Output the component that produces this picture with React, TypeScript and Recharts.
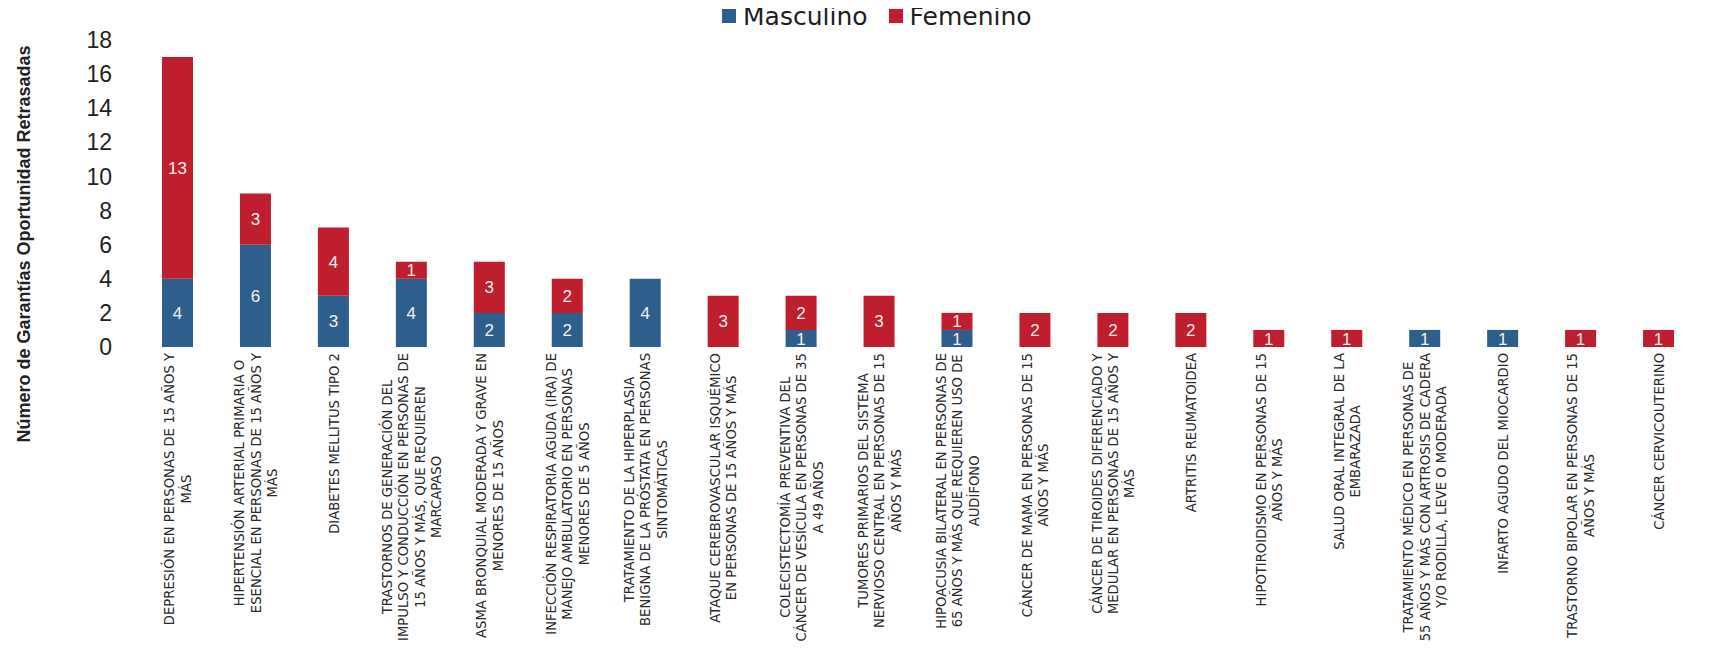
import React from 'react';
import { BarChart, Bar, XAxis, YAxis, LabelList } from 'recharts';

const categories = [
  'DEPRESIÓN EN PERSONAS DE 15 AÑOS Y MÁS',
  'HIPERTENSIÓN ARTERIAL PRIMARIA O ESENCIAL EN PERSONAS DE 15 AÑOS Y MÁS',
  'DIABETES MELLITUS TIPO 2',
  'TRASTORNOS DE GENERACIÓN DEL IMPULSO Y CONDUCCIÓN EN PERSONAS DE 15 AÑOS Y MÁS, QUE REQUIEREN MARCAPASO',
  'ASMA BRONQUIAL MODERADA Y GRAVE EN MENORES DE 15 AÑOS',
  'INFECCIÓN RESPIRATORIA AGUDA (IRA) DE MANEJO AMBULATORIO EN PERSONAS MENORES DE 5 AÑOS',
  'TRATAMIENTO DE LA HIPERPLASIA BENIGNA DE LA PRÓSTATA EN PERSONAS SINTOMÁTICAS',
  'ATAQUE CEREBROVASCULAR ISQUÉMICO EN PERSONAS DE 15 AÑOS Y MÁS',
  'COLECISTECTOMÍA PREVENTIVA DEL CÁNCER DE VESÍCULA EN PERSONAS DE 35 A 49 AÑOS',
  'TUMORES PRIMARIOS DEL SISTEMA NERVIOSO CENTRAL EN PERSONAS DE 15 AÑOS Y MÁS',
  'HIPOACUSIA BILATERAL EN PERSONAS DE 65 AÑOS Y MÁS QUE REQUIEREN USO DE AUDÍFONO',
  'CÁNCER DE MAMA EN PERSONAS DE 15 AÑOS Y MÁS',
  'CÁNCER DE TIROIDES DIFERENCIADO Y MEDULAR EN PERSONAS DE 15 AÑOS Y MÁS',
  'ARTRITIS REUMATOIDEA',
  'HIPOTIROIDISMO EN PERSONAS DE 15 AÑOS Y MÁS',
  'SALUD ORAL INTEGRAL DE LA EMBARAZADA',
  'TRATAMIENTO MÉDICO EN PERSONAS DE 55 AÑOS Y MÁS CON ARTROSIS DE CADERA Y/O RODILLA, LEVE O MODERADA',
  'INFARTO AGUDO DEL MIOCARDIO',
  'TRASTORNO BIPOLAR EN PERSONAS DE 15 AÑOS Y MÁS',
  'CÁNCER CERVICOUTERINO',
];

const tickLines: string[][] = [
  ['DEPRESIÓN EN PERSONAS DE 15 AÑOS Y', 'MÁS'],
  ['HIPERTENSIÓN ARTERIAL PRIMARIA O', 'ESENCIAL EN PERSONAS DE 15 AÑOS Y', 'MÁS'],
  ['DIABETES MELLITUS TIPO 2'],
  ['TRASTORNOS DE GENERACIÓN DEL', 'IMPULSO Y CONDUCCIÓN EN PERSONAS DE', '15 AÑOS Y MÁS, QUE REQUIEREN', 'MARCAPASO'],
  ['ASMA BRONQUIAL MODERADA Y GRAVE EN', 'MENORES DE 15 AÑOS'],
  ['INFECCIÓN RESPIRATORIA AGUDA (IRA) DE', 'MANEJO AMBULATORIO EN PERSONAS', 'MENORES DE 5 AÑOS'],
  ['TRATAMIENTO DE LA HIPERPLASIA', 'BENIGNA DE LA PRÓSTATA EN PERSONAS', 'SINTOMÁTICAS'],
  ['ATAQUE CEREBROVASCULAR ISQUÉMICO', 'EN PERSONAS DE 15 AÑOS Y MÁS'],
  ['COLECISTECTOMÍA PREVENTIVA DEL', 'CÁNCER DE VESÍCULA EN PERSONAS DE 35', 'A 49 AÑOS'],
  ['TUMORES PRIMARIOS DEL SISTEMA', 'NERVIOSO CENTRAL EN PERSONAS DE 15', 'AÑOS Y MÁS'],
  ['HIPOACUSIA BILATERAL EN PERSONAS DE', '65 AÑOS Y MÁS QUE REQUIEREN USO DE', 'AUDÍFONO'],
  ['CÁNCER DE MAMA EN PERSONAS DE 15', 'AÑOS Y MÁS'],
  ['CÁNCER DE TIROIDES DIFERENCIADO Y', 'MEDULAR EN PERSONAS DE 15 AÑOS Y', 'MÁS'],
  ['ARTRITIS REUMATOIDEA'],
  ['HIPOTIROIDISMO EN PERSONAS DE 15', 'AÑOS Y MÁS'],
  ['SALUD ORAL INTEGRAL DE LA', 'EMBARAZADA'],
  ['TRATAMIENTO MÉDICO EN PERSONAS DE', '55 AÑOS Y MÁS CON ARTROSIS DE CADERA', 'Y/O RODILLA, LEVE O MODERADA'],
  ['INFARTO AGUDO DEL MIOCARDIO'],
  ['TRASTORNO BIPOLAR EN PERSONAS DE 15', 'AÑOS Y MÁS'],
  ['CÁNCER CERVICOUTERINO'],
];

const masculino = [4, 6, 3, 4, 2, 2, 4, 0, 1, 0, 1, 0, 0, 0, 0, 0, 1, 1, 0, 0];
const femenino = [13, 3, 4, 1, 3, 2, 0, 3, 2, 3, 1, 2, 2, 2, 1, 1, 0, 0, 1, 1];

const yTicks = [0, 2, 4, 6, 8, 10, 12, 14, 16, 18];

const seriesNames = ['Masculino', 'Femenino'];
const yTitle = 'Número de Garantías Oportunidad Retrasadas';

const BLUE = '#2E5F8C';
const RED = '#BF1E2E';

const data = categories.map((name, i) => ({
  name,
  Masculino: masculino[i],
  Femenino: femenino[i],
}));

let ctx: CanvasRenderingContext2D | null = null;
const measure = (s: string, font: string) => {
  if (!ctx) ctx = document.createElement('canvas').getContext('2d');
  if (!ctx) return s.length * 9;
  ctx.font = font;
  return ctx.measureText(s).width;
};

const TICK_FONT_SIZE = 13.2;
const TICK_FONT = 'DejaVu Sans';

const XTick = (props: any) => {
  const { x, y, payload } = props;
  const idx = props.index ?? payload?.index ?? 0;
  const lines = tickLines[idx] || [String(payload?.value ?? '')];
  const font = `${TICK_FONT_SIZE}px "${TICK_FONT}"`;
  const maxW = Math.max(...lines.map((l) => measure(l, font)));
  const cx = -(6 + maxW / 2);
  const lh = 16.5;
  const n = lines.length;
  return (
    <g transform={`translate(${x},${y}) rotate(-90)`}>
      {lines.map((l, i) => (
        <text
          key={i}
          x={cx}
          y={(i - (n - 1) / 2) * lh}
          dy="0.35em"
          textAnchor="middle"
          fontSize={TICK_FONT_SIZE}
          fontFamily={TICK_FONT}
          fill="#2a2a2a"
        >
          {l}
        </text>
      ))}
    </g>
  );
};

const fmt = (v: any) => (v ? v : '');

export default function App() {
  return (
    <div style={{ position: 'relative', width: 1710, height: 653, margin: -8, background: '#fff' }}>
      <BarChart
        width={1710}
        height={653}
        data={data}
        margin={{ top: 40, right: 12, bottom: 6, left: 0 }}
      >
        <XAxis
          dataKey="name"
          interval={0}
          tick={<XTick />}
          height={300}
          tickLine={false}
          axisLine={false}
          tickSize={0}
          tickMargin={0}
        />
        <YAxis
          width={139}
          domain={[0, 18]}
          ticks={yTicks}
          interval={0}
          tickLine={false}
          axisLine={false}
          tickSize={0}
          tickMargin={27}
          tick={{ fontSize: 23, fontFamily: 'Liberation Sans', fill: '#222' }}
        />
        <Bar dataKey="Masculino" stackId="a" fill={BLUE} barSize={31} isAnimationActive={false}>
          <LabelList
            dataKey="Masculino"
            position="center"
            formatter={fmt}
            fill="#F4F0F0"
            fontSize={17}
            fontFamily="Liberation Sans"
          />
        </Bar>
        <Bar dataKey="Femenino" stackId="a" fill={RED} barSize={31} isAnimationActive={false}>
          <LabelList
            dataKey="Femenino"
            position="center"
            formatter={fmt}
            fill="#F4F0F0"
            fontSize={17}
            fontFamily="Liberation Sans"
          />
        </Bar>
      </BarChart>

      <div
        style={{
          position: 'absolute',
          left: 722,
          top: 0,
          height: 32,
          display: 'flex',
          alignItems: 'center',
          fontFamily: 'DejaVu Sans',
          fontSize: 25,
          color: '#1e1e1e',
          whiteSpace: 'nowrap',
        }}
      >
        <span style={{ width: 14, height: 14, background: BLUE, display: 'inline-block', marginRight: 7 }} />
        <span style={{ marginRight: 21 }}>{seriesNames[0]}</span>
        <span style={{ width: 14, height: 14, background: RED, display: 'inline-block', marginRight: 7 }} />
        <span>{seriesNames[1]}</span>
      </div>

      <div
        style={{
          position: 'absolute',
          left: 24,
          top: 244,
          transform: 'translate(-50%, -50%) rotate(-90deg)',
          whiteSpace: 'nowrap',
          fontFamily: 'Liberation Sans',
          fontWeight: 'bold',
          fontSize: 18,
          color: '#222',
        }}
      >
        {yTitle}
      </div>
    </div>
  );
}
